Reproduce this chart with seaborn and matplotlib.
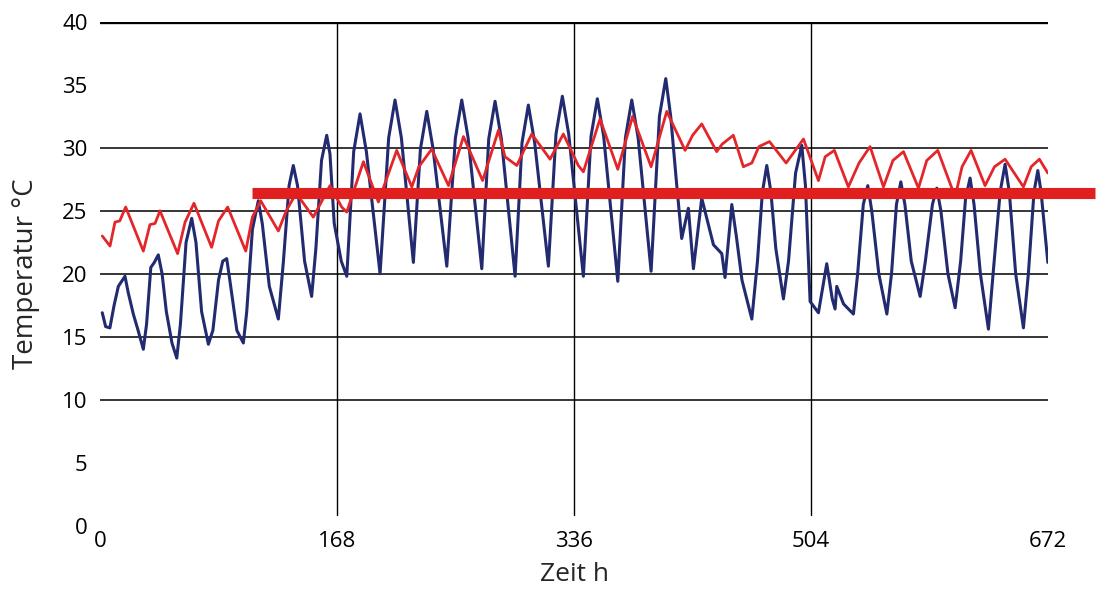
import matplotlib
matplotlib.use("Agg")
import matplotlib.pyplot as plt
import seaborn as sns
import pandas as pd

sns.set_theme(style="white")
plt.rcParams['font.family'] = ['Open Sans', 'DejaVu Sans']

# Readings (hours, deg C)
blue_h = [1.6, 4, 7, 10, 13, 17.7, 20, 23.6, 27, 30.7, 33, 36, 38.5, 41.3, 44, 47, 51, 54.4,
          57, 61, 65, 68, 72, 76.8, 80, 84, 87, 89.8, 92, 97, 101.6, 104, 108, 112.2,
          115, 120, 126.4, 130, 134, 137, 140, 145, 150, 153, 157, 160.7, 163, 166, 171,
          174.9, 179.8, 184.3, 188.8, 198.5, 204.6, 209.1, 213.6, 222.1, 227.1, 231.6,
          236.1, 245.8, 251.9, 256.4, 260.9, 270.6, 275.5, 280, 284.5, 294.2, 299.1,
          303.6, 308.1, 317.8, 323.2, 327.7, 332.2, 342.6, 348, 352.5, 357, 367, 372.4,
          376.9, 381.4, 390.6, 396.5, 401, 404.5, 408.8, 412.3, 417, 420.6, 426.5,
          434.8, 440.7, 443, 447.8, 451, 455, 462, 466, 469.5, 472.6, 475.5, 479, 484.4,
          488, 493, 497.4, 500, 503.3, 509.2, 515.1, 519, 521, 522.2, 527, 534, 537, 541,
          544.2, 547, 552, 557.7, 561, 564.5, 567.6, 570.5, 575, 581.3, 585, 590, 593.1,
          596, 601, 606.1, 610, 613.5, 616.7, 619.5, 624, 629.7, 633, 638, 641.5, 644.5,
          649, 654.5, 658, 662, 664.7, 667, 671.8]
blue_t = [16.9, 15.8, 15.7, 17.5, 19.0, 19.8, 18.5, 16.8, 15.5, 14.0, 16.0, 20.5, 20.9, 21.5, 20.0, 17.0, 14.5, 13.3,
          16.0, 22.5, 24.4, 22.5, 17.0, 14.4, 15.5, 19.5, 21.0, 21.2, 19.5, 15.5, 14.5, 17.0, 23.5, 25.8,
          24.0, 19.0, 16.4, 21.0, 27.0, 28.6, 27.0, 21.0, 18.2, 22.0, 29.0, 31.0, 29.5, 24.0, 21.0,
          19.8, 29.7, 32.7, 29.7, 20.0, 30.8, 33.8, 30.8, 20.9, 29.9, 32.9,
          29.9, 20.6, 30.8, 33.8, 30.8, 20.4, 30.7, 33.7, 30.7, 19.8, 30.4,
          33.4, 30.4, 20.6, 31.1, 34.1, 31.1, 19.8, 30.9, 33.9, 30.9, 19.4, 30.8,
          33.8, 30.8, 20.2, 32.5, 35.5, 32.5, 27.0, 22.8, 25.2, 20.4, 26.0,
          22.3, 21.6, 19.7, 25.5, 23.0, 19.5, 16.4, 21.0, 26.5, 28.6, 26.5, 22.0, 18.0,
          21.0, 28.0, 30.2, 27.0, 17.8, 16.9, 20.8, 18.0, 17.2, 19.0, 17.6, 16.8, 20.0, 25.5,
          27.0, 25.0, 20.0, 16.8, 20.0, 25.5, 27.3, 25.5, 21.0, 18.2, 21.0, 25.5, 26.8,
          25.0, 20.0, 17.3, 21.0, 26.0, 27.6, 25.5, 20.0, 15.6, 20.0, 26.5, 28.7, 26.5,
          20.0, 15.7, 20.0, 26.5, 28.2, 26.5, 20.9]

red_h = [1.6, 7.1, 10.6, 14, 18.2, 30.7, 35.4, 39, 42.5, 55, 60.3, 66.6, 79.1, 84, 90.5,
         103.3, 108, 113.9, 126.4, 132, 139, 151.2, 163, 171.3, 174.9, 186.7, 197.3,
         203, 210.3, 221, 226, 235.1, 247, 257.6, 271.2, 282.4, 287, 295.4, 306, 319,
         328.4, 339, 342.6, 354.4, 367, 377.5, 390.6, 401.7, 414.7, 420, 426.5, 437.1,
         441, 448.9, 456, 462, 467, 474.5, 486.3, 498.6, 509.2, 514, 520.5, 530.4, 538,
         545.8, 555.3, 562, 569.5, 580.1, 586, 593.8, 606.1, 611, 617.4, 627.3, 634,
         641.5, 654.5, 660, 665.8, 671.8]
red_t = [23.0, 22.2, 24.1, 24.2, 25.3, 21.8, 23.9, 24.0, 25.0, 21.6, 24.1, 25.6, 22.1, 24.2, 25.3,
         21.8, 24.5, 25.8, 23.4, 25.0, 26.4, 24.5, 27.0, 25.3, 24.9, 28.9, 25.7,
         27.5, 29.8, 26.9, 28.5, 29.9, 27.0, 30.9, 27.4, 31.4, 29.3, 28.6, 31.1, 29.1,
         31.1, 28.6, 28.1, 32.3, 28.3, 32.5, 28.5, 32.9, 29.8, 31.0, 31.9, 29.7,
         30.3, 31.0, 28.5, 28.8, 30.1, 30.5, 28.8, 30.7, 27.4, 29.3, 29.8, 26.9, 28.8,
         30.1, 26.9, 29.0, 29.7, 26.8, 29.0, 29.8, 26.1, 28.5, 29.8, 27.0, 28.5,
         29.1, 26.9, 28.5, 29.1, 28.0]

limit_h = [107.5, 705]
limit_t = [26.4, 26.4]

x_ticks = [0, 168, 336, 504, 672]
y_ticks = [0, 5, 10, 15, 20, 25, 30, 35, 40]
grid_y = [10, 15, 20, 25, 30]

blue_df = pd.DataFrame({'h': blue_h, 't': blue_t})
red_df = pd.DataFrame({'h': red_h, 't': red_t})
limit_df = pd.DataFrame({'h': limit_h, 't': limit_t})

fig = plt.figure(figsize=(10.99, 5.91), dpi=100)
ax = fig.add_axes([0.091, 0.1108, 0.8627, 0.852])

for g in grid_y:
    ax.axhline(g, color='black', lw=1.1, zorder=1)
ax.axhline(40, color='black', lw=2.4, zorder=1)
for v in x_ticks[1:-1]:
    ax.plot([v, v], [0.8, 40], color='black', lw=1.0, zorder=1)

sns.lineplot(data=blue_df, x='h', y='t', ax=ax, color='#222b70', lw=2.2,
             estimator=None, sort=False, zorder=2)
sns.lineplot(data=red_df, x='h', y='t', ax=ax, color='#e3262a', lw=2.0,
             estimator=None, sort=False, zorder=3)
sns.lineplot(data=limit_df, x='h', y='t', ax=ax, color='#e0201f', lw=8,
             estimator=None, sort=False, zorder=4)
ax.lines[-1].set_clip_on(False)
ax.lines[-1].set_solid_capstyle('butt')

ax.set_xlim(0, 672)
ax.set_ylim(0, 40)
ax.set_xticks(x_ticks)
ax.set_yticks(y_ticks)
ax.tick_params(axis='both', length=0, labelsize=16, colors='black')
ax.tick_params(axis='y', pad=9)
ax.tick_params(axis='x', pad=4)
for s in ax.spines.values():
    s.set_visible(False)
ax.set_xlabel('Zeit h', fontsize=19, labelpad=7)
ax.set_ylabel('Temperatur °C', fontsize=20, labelpad=16)

fig.savefig('out.png', dpi=100)
